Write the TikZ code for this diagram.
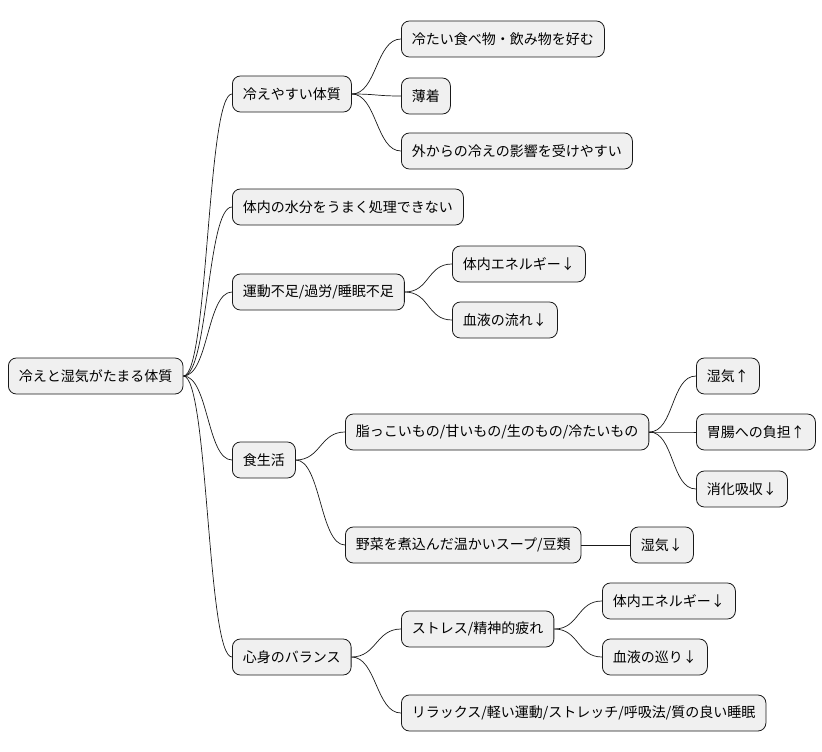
\documentclass[tikz,border=0pt]{standalone}
\usepackage{fontspec}
\setmainfont{Noto Sans CJK JP}
\begin{document}
\begin{tikzpicture}[x=1pt,y=-1pt,
  box/.style={draw=black!90,fill=black!6,rounded corners=8pt,line width=0.8pt,anchor=west,
    inner xsep=10.5pt,minimum height=36pt,font=\fontsize{14}{16}\selectfont},
  ln/.style={line width=0.7pt,black!90}]
\useasboundingbox (0,0) rectangle (822,752);
\node[box] (r) at (8,376) {冷えと湿気がたまる体質};
\node[box] (a) at (232,94) {冷えやすい体質};
\node[box] (a1) at (401,39) {冷たい食べ物・飲み物を好む};
\node[box] (a2) at (401,96) {薄着};
\node[box] (a3) at (401,151) {外からの冷えの影響を受けやすい};
\node[box] (b) at (232,207) {体内の水分をうまく処理できない};
\node[box] (c) at (232,292) {運動不足/過労/睡眠不足};
\node[box] (c1) at (452,264) {体内エネルギー↓};
\node[box] (c2) at (452,320) {血液の流れ↓};
\node[box] (d) at (232,460) {食生活};
\node[box] (d1) at (345,432) {脂っこいもの/甘いもの/生のもの/冷たいもの};
\node[box] (d11) at (696,376) {湿気↑};
\node[box] (d12) at (696,432) {胃腸への負担↑};
\node[box] (d13) at (696,489) {消化吸収↓};
\node[box] (d2) at (345,545) {野菜を煮込んだ温かいスープ/豆類};
\node[box] (d21) at (630,545) {湿気↓};
\node[box] (e) at (232,657) {心身のバランス};
\node[box] (e1) at (401,629) {ストレス/精神的疲れ};
\node[box] (e11) at (602,601) {体内エネルギー↓};
\node[box] (e12) at (602,657) {血液の巡り↓};
\node[box] (e2) at (401,713) {リラックス/軽い運動/ストレッチ/呼吸法/質の良い睡眠};
\foreach \p/\c in {r/a,r/b,r/c,r/d,r/e,a/a1,a/a2,a/a3,c/c1,c/c2,d/d1,d/d2,d1/d11,d1/d12,d1/d13,d2/d21,e/e1,e/e2,e1/e11,e1/e12}
  \draw[ln] (\p.east) .. controls +(25,0) and +(-25,0) .. (\c.west);
\end{tikzpicture}
\end{document}
